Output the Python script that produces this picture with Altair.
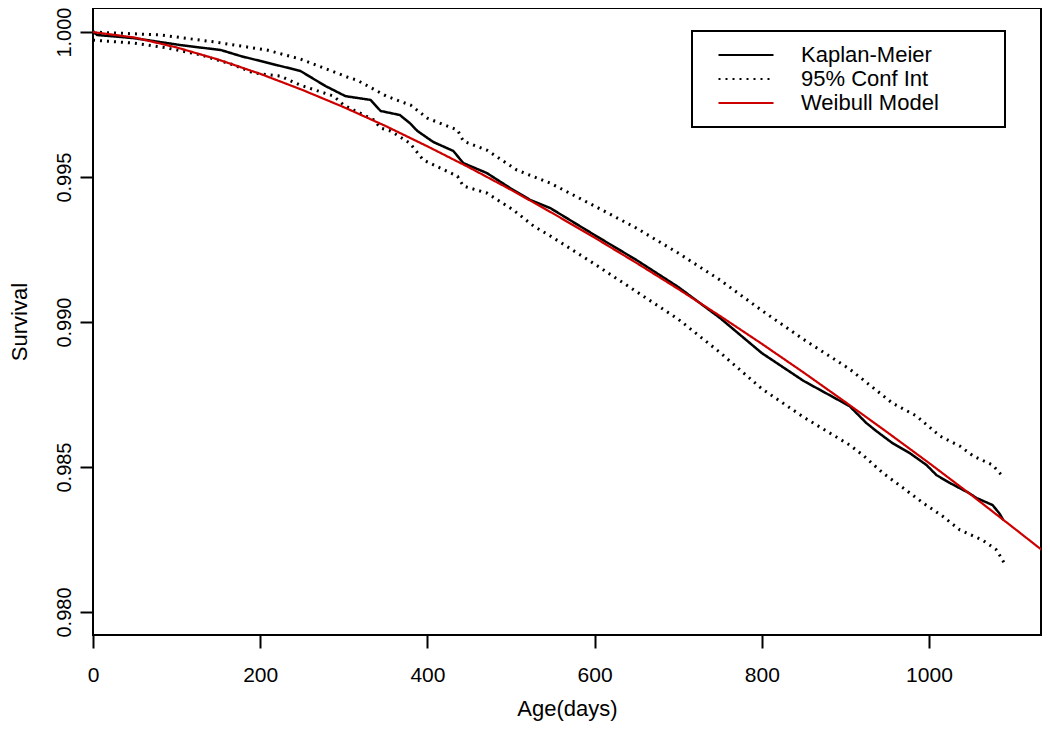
import altair as alt
import pandas as pd

# ---- data ----
km_t = [0, 5, 49, 105, 153, 177, 220, 248, 278, 302, 332, 344, 367, 379, 388, 407, 431, 443,
        471, 499, 523, 547, 600, 650, 700, 750, 800, 850, 905, 925, 937, 956, 977, 997, 1009,
        1025, 1048, 1057, 1076, 1084, 1089]
km_s = [1.00000, 0.99990, 0.99979, 0.99955, 0.99938, 0.99917, 0.99886, 0.99866, 0.99814, 0.99779,
        0.99766, 0.99728, 0.99714, 0.99686, 0.99659, 0.99621, 0.99590, 0.99548, 0.99514, 0.99462,
        0.99421, 0.99393, 0.99300, 0.99214, 0.99121, 0.99014, 0.98893, 0.98797, 0.98710, 0.98652,
        0.98624, 0.98583, 0.98548, 0.98507, 0.98472, 0.98445, 0.98410, 0.98393, 0.98369, 0.98341,
        0.98317]

up_t = [0, 81, 145, 208, 248, 276, 304, 316, 351, 380, 400, 436, 443, 471, 507, 547, 600, 650,
        700, 750, 800, 850, 905, 956, 985, 1013, 1037, 1053, 1076, 1090]
up_s = [1.00000, 0.99990, 0.99966, 0.99938, 0.99907, 0.99876, 0.99845, 0.99834, 0.99779, 0.99748,
        0.99703, 0.99662, 0.99624, 0.99593, 0.99524, 0.99479, 0.99400, 0.99324, 0.99238, 0.99145,
        0.99040, 0.98940, 0.98838, 0.98721, 0.98676, 0.98607, 0.98572, 0.98538, 0.98507, 0.98462]

lo_t = [0, 49, 89, 129, 169, 192, 224, 248, 288, 300, 336, 344, 356, 379, 395, 436, 443, 471,
        503, 527, 547, 600, 650, 700, 750, 800, 850, 905, 921, 945, 969, 993, 1016, 1037, 1064,
        1081, 1090]
lo_s = [0.99972, 0.99962, 0.99945, 0.99921, 0.99886, 0.99859, 0.99848, 0.99817, 0.99779, 0.99748,
        0.99697, 0.99669, 0.99659, 0.99617, 0.99559, 0.99503, 0.99469, 0.99445, 0.99386, 0.99331,
        0.99297, 0.99200, 0.99105, 0.99010, 0.98895, 0.98770, 0.98672, 0.98576, 0.98541, 0.98479,
        0.98428, 0.98376, 0.98331, 0.98283, 0.98248, 0.98214, 0.98169]

wb_t = [0, 50, 100, 150, 200, 250, 300, 350, 400, 450, 500, 550, 600, 650, 700, 750, 800, 850,
        900, 950, 1000, 1050, 1100, 1135]
wb_s = [1.00000, 0.99981, 0.99947, 0.99905, 0.99856, 0.99801, 0.99741, 0.99676, 0.99606, 0.99533,
        0.99456, 0.99375, 0.99291, 0.99204, 0.99114, 0.99021, 0.98925, 0.98826, 0.98724, 0.98620,
        0.98514, 0.98405, 0.98293, 0.98214]

series_names = ["Kaplan-Meier", "95% Conf Int", "Weibull Model"]
x_ticks = [0, 200, 400, 600, 800, 1000]
y_ticks = [0.980, 0.985, 0.990, 0.995, 1.000]

km_df = pd.DataFrame({"t": km_t, "s": km_s, "series": series_names[0], "part": "km"})
ci_df = pd.concat([
    pd.DataFrame({"t": up_t, "s": up_s, "series": series_names[1], "part": "upper"}),
    pd.DataFrame({"t": lo_t, "s": lo_s, "series": series_names[1], "part": "lower"}),
])
wb_df = pd.DataFrame({"t": wb_t, "s": wb_s, "series": series_names[2], "part": "weibull"})

FONT = "Liberation Sans"

legend = alt.Legend(
    title="WW",
    titleOrient="right",
    titleOpacity=0,
    titleFontSize=28,
    titlePadding=0,
    orient="none",
    legendX=599,
    legendY=23,
    symbolType="M-5,0H5",
    symbolSize=121,
    symbolStrokeWidth=2,
    symbolOffset=30,
    labelOffset=44,
    labelFontSize=22,
    labelFont=FONT,
    labelColor="black",
    labelLimit=400,
    padding=13,
    rowPadding=2,
    strokeColor="black",
)

color = alt.Color("series:N",
                  scale=alt.Scale(domain=series_names, range=["#000000", "#000000", "#CD0000"]),
                  legend=legend)
dash = alt.StrokeDash("series:N",
                      scale=alt.Scale(domain=series_names, range=[[1, 0], [2, 5], [1, 0]]),
                      legend=legend)

x = alt.X("t:Q",
          scale=alt.Scale(domain=[0, 1134], nice=False, zero=False),
          axis=alt.Axis(values=x_ticks, format="d", title="Age(days)", tickSize=13, tickWidth=2,
                        labelFontSize=21, labelPadding=16, titleFontSize=22,
                        titleY=80, titleBaseline="alphabetic", labelFlush=False,
                        labelOverlap=False))
y = alt.Y("s:Q",
          scale=alt.Scale(domain=[0.979207, 1.00083], nice=False, zero=False),
          axis=alt.Axis(values=y_ticks, format=".3f", title="Survival", tickSize=13,
                        tickWidth=2, labelFontSize=20, labelAngle=270, labelAlign="center",
                        labelBaseline="alphabetic", labelPadding=10, titleFontSize=22,
                        titleAngle=270, titleX=-67, titleBaseline="alphabetic",
                        labelFlush=False, labelOverlap=False))

ci = alt.Chart(ci_df).mark_line(strokeWidth=3, clip=True).encode(
    x=x, y=y, color=color, strokeDash=dash, detail="part:N")
km = alt.Chart(km_df).mark_line(strokeWidth=2.5, clip=True).encode(
    x=x, y=y, color=color, strokeDash=dash)
wb = alt.Chart(wb_df).mark_line(strokeWidth=2.2, clip=True).encode(
    x=x, y=y, color=color, strokeDash=dash)

chart = alt.layer(ci, km, wb).properties(
    width=948,
    height=627,
    autosize=alt.AutoSizeParams(type="none"),
    padding={"left": 85, "top": 0, "right": 1, "bottom": 88},
).configure_view(
    stroke="black", strokeWidth=2
).configure_axis(
    labelFont=FONT, titleFont=FONT, labelColor="black", titleColor="black",
    tickColor="black", grid=False, domain=False, titleFontWeight="normal"
).configure_legend(
    strokeWidth=2
)

chart.save("out.html", embed_options={"renderer": "svg", "actions": False})
